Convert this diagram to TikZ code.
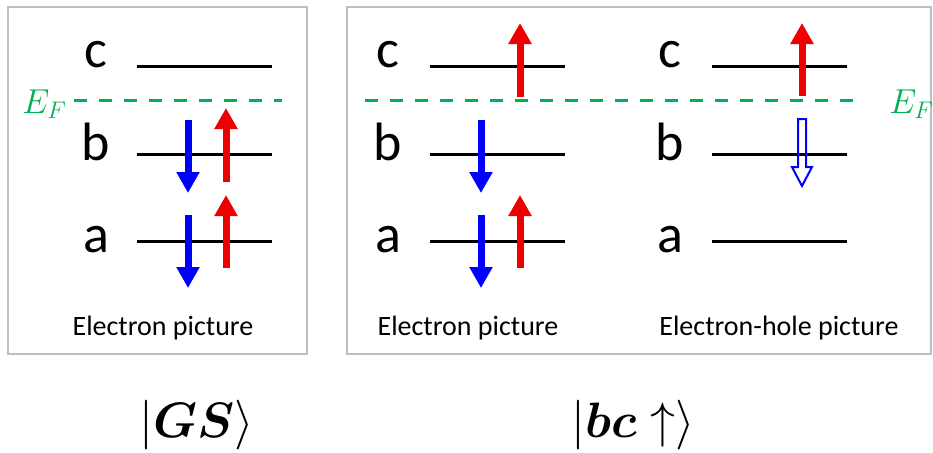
\documentclass[tikz,border=0pt]{standalone}
\usepackage{amsmath}
\usepackage{fontspec}
\setmainfont{Carlito}
\usetikzlibrary{arrows.meta}
\definecolor{framegray}{RGB}{191,191,191}
\definecolor{fermigreen}{RGB}{0,176,80}
\definecolor{spinred}{RGB}{238,0,0}
\definecolor{spinblue}{RGB}{0,0,255}

\begin{document}
\begin{tikzpicture}[x=0.5pt,y=-0.5pt]
    \tikzset{
        frame/.style={framegray,line width=1pt},
        level/.style={line width=1.5pt},
        fermi/.style={fermigreen,line width=1.5pt,dash pattern=on 6.5pt off 6pt},
        spin/.style={line width=3.5pt,-{Triangle[width=11pt,length=10.5pt]}},
        hole/.style={spinblue,line width=1pt,line join=miter},
        lvlname/.style={anchor=base,font=\fontsize{27}{30}\selectfont},
        caption/.style={anchor=base,font=\fontsize{14}{17}\selectfont},
        fermilabel/.style={anchor=base west,text=fermigreen,inner sep=0pt,font=\fontsize{17}{19}\selectfont},
        ket/.style={anchor=base,font=\fontsize{23}{26}\selectfont}
    }
    \useasboundingbox (0,0) rectangle (933,452);

    % frames
    \draw[frame] (8,7) rectangle (307,354);
    \draw[frame] (347,7) rectangle (931,354);

    % levels: label x / line start / panel
    \foreach \lx/\ls/\p in {96/137/gs,388/430/el,670/712/eh}{
        \foreach \lvl/\ly/\ty in {c/66/67,b/154/160,a/241/252}{
            \node[lvlname] (\p-\lvl) at (\lx,\ty) {\lvl};
            \draw[level] (\ls,\ly) coordinate (\p-\lvl-w)
                -- ++(135,0) coordinate (\p-\lvl-e);
        }
    }

    % Fermi level
    \draw[fermi] (74,100) coordinate (ef-gs-w) -- (282,100) coordinate (ef-gs-e);
    \draw[fermi] (365,100) coordinate (ef-bc-w) -- (862,100) coordinate (ef-bc-e);
    \node[fermilabel] (ef-gs) at (22,113) {$E_F$};
    \node[fermilabel] (ef-bc) at (889,113) {$E_F$};

    % spins, ground state
    \draw[spin,spinblue] (188,120) -- (188,193);
    \draw[spin,spinred] (226,182) -- (226,108);
    \draw[spin,spinblue] (188,215) -- (188,288);
    \draw[spin,spinred] (226,268) -- (226,195);

    % spins, excited state (electron picture)
    \draw[spin,spinred] (520,97) -- (520,23);
    \draw[spin,spinblue] (481,120) -- (481,193);
    \draw[spin,spinblue] (481,215) -- (481,288);
    \draw[spin,spinred] (520,268) -- (520,195);

    % spins, excited state (electron-hole picture)
    \draw[spin,spinred] (802,96) -- (802,23);
    \draw[hole] (798,119) -- (806,119) -- (806,167) -- (812,167)
        -- (802,186) -- (792,167) -- (798,167) -- cycle;

    \node[caption] (cap-gs) at (163,335) {Electron picture};
    \node[caption] (cap-el) at (468,335) {Electron picture};
    \node[caption] (cap-eh) at (779,335) {Electron-hole picture};

    \node[ket] (ket-gs) at (197,437) {$|\boldsymbol{GS}\rangle$};
    \node[ket] (ket-bc) at (633,437) {$|\boldsymbol{bc}\uparrow\rangle$};
\end{tikzpicture}
\end{document}
